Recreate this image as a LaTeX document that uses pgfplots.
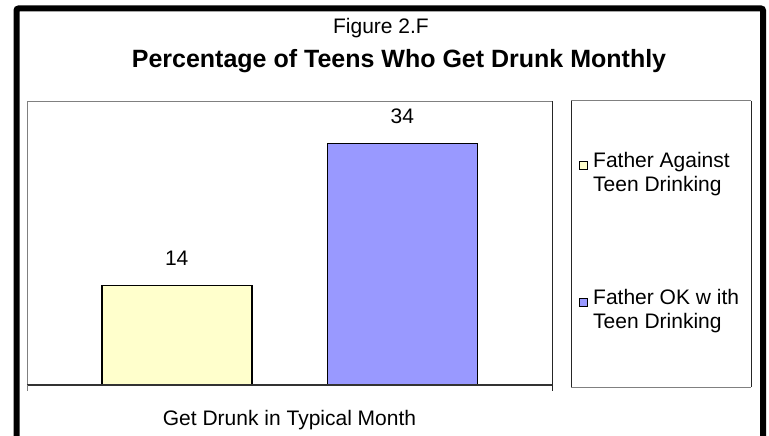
\documentclass[border=0pt]{standalone}
\usepackage{fontspec}
\setmainfont{Liberation Sans}
\usepackage{pgfplots}
\pgfplotsset{compat=1.18}
\definecolor{barA}{RGB}{255,255,204}
\definecolor{barB}{RGB}{153,153,255}
\definecolor{frameGray}{RGB}{128,128,128}
\newcommand{\bodyfont}{\fontsize{21}{24}\selectfont}
\begin{document}
\begin{tikzpicture}[x=1pt,y=1pt]
\fill[white] (0,0) rectangle (769,-436);
\path[use as bounding box] (0,0) rectangle (769,-436);
% outer frame
\draw[line width=6pt, black, rounded corners=2pt] (16.5,-445) -- (16.5,-8.5) -- (763,-8.5) -- (763,-445);
% titles
\node[anchor=base, inner sep=0pt, font=\bodyfont] at (381,-33.5) {Figure 2.F};
\node[anchor=base, inner sep=0pt, font=\bfseries\fontsize{25}{30}\selectfont] at (399,-67) {Percentage of Teens Who Get Drunk Monthly};
\begin{axis}[
  at={(27pt,-385pt)}, anchor=south west, scale only axis,
  width=525pt, height=284pt,
  xmin=-1, xmax=1, ymin=0, ymax=40,
  ybar=75.5pt, bar width=150pt,
  axis line style={draw=none}, tick style={draw=none},
  ytick=\empty, xtick={0}, xticklabels={Get Drunk in Typical Month},
  xticklabel style={font=\bodyfont, anchor=base, yshift=-36pt},
  /pgf/number format/assume math mode=true,
  nodes near coords, nodes near coords align={center},
  every node near coord/.append style={font=\bodyfont, yshift=27.5pt, color=black},
  legend style={at={(axis description cs:1.0514,0.507)}, anchor=west, draw=none, fill=none,
    inner sep=0pt, row sep=97pt, column sep=5pt, font=\bodyfont, align=left,
    nodes={inner sep=0pt}},
  legend cell align=left,
  clip=false,
]
\addplot[fill=barA, draw=black, line width=1.5pt,
  legend image code/.code={\draw[fill=barA, draw=black, line width=1pt] (0pt,3pt) rectangle (8pt,11pt);}]
  coordinates {(0,14)};
\addlegendentry{Father Against\\Teen Drinking}
\addplot[fill=barB, draw=black, line width=1.5pt,
  legend image code/.code={\draw[fill=barB, draw=black, line width=1pt] (0pt,3pt) rectangle (8pt,11pt);}]
  coordinates {(0,34)};
\addlegendentry{Father OK w ith\\Teen Drinking}
\draw[frameGray, line width=1pt] (rel axis cs:0,0) -- (rel axis cs:0,1) -- (rel axis cs:1,1);
\draw[black!85, line width=1pt] (rel axis cs:1,1) -- (rel axis cs:1,0);
\draw[black!80, line width=1.2pt] (rel axis cs:0,0) -- (rel axis cs:1,0);
\draw[frameGray, line width=1pt] (rel axis cs:0,0) -- ++(0pt,-6pt);
\draw[black!85, line width=1pt] (rel axis cs:1,0) -- ++(0pt,-6pt);
\end{axis}
% legend box
\draw[frameGray, line width=1pt] (571,-101) -- (751,-101);
\draw[frameGray, line width=1pt] (571,-387) -- (751,-387);
\draw[black!85, line width=1pt] (571,-101) -- (571,-387);
\draw[black!85, line width=1pt] (751,-101) -- (751,-387);
\end{tikzpicture}
\end{document}
